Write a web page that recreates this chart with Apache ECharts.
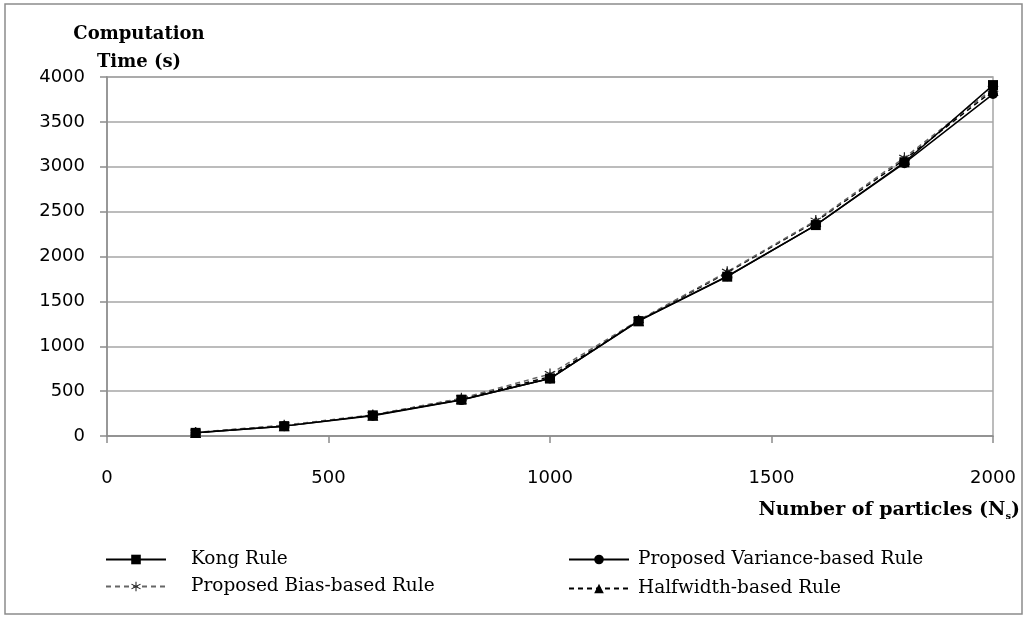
<!DOCTYPE html>
<html><head><meta charset="utf-8">
<script src="https://cdn.jsdelivr.net/npm/echarts@6/dist/echarts.min.js"></script>
<style>html,body{margin:0;padding:0;background:#fff}#c{width:1028px;height:619px}</style>
</head><body><div id="c"></div>
<script>
const particles = [200, 400, 600, 800, 1000, 1200, 1400, 1600, 1800, 2000];
const kongRule = [35, 110, 230, 405, 640, 1280, 1775, 2350, 3050, 3910];
const varianceRule = [35, 110, 225, 400, 640, 1285, 1780, 2350, 3040, 3810];
const biasRule = [40, 120, 235, 420, 690, 1290, 1830, 2400, 3100, 3870];
const halfwidthRule = [38, 115, 232, 415, 660, 1285, 1820, 2390, 3080, 3850];
const seriesNames = ['Kong Rule', 'Proposed Variance-based Rule', 'Proposed Bias-based Rule', 'Halfwidth-based Rule'];

const star = 'path://M4.5 0L5.5 0L5.5 10L4.5 10Z M9.08 7.93L9.58 7.07L0.92 2.07L0.42 2.93Z M9.58 2.93L9.08 2.07L0.42 7.07L0.92 7.93Z';
const pair = ys => particles.map((x, i) => [x, ys[i]]);
const serifFont = 'DejaVu Serif';
function mkLegend(name, left, top, pad) {
  return {data: [name], left: left, top: top, itemWidth: 60, itemHeight: 12,
    textStyle: {fontFamily: serifFont, fontSize: 18.5, color: '#000', padding: [0, 0, 0, pad]},
    orient: 'horizontal', padding: 0, selectedMode: false};
}
const chart = echarts.init(document.getElementById('c'), null, {renderer: 'canvas'});
chart.setOption({
  animation: false,
  backgroundColor: '#fff',
  grid: {left: 107, right: 35, top: 77, bottom: 183, show: true, borderColor: '#a6a6a6', borderWidth: 1.5},
  legend: [
    mkLegend(seriesNames[0], 105, 550, 20),
    mkLegend(seriesNames[2], 105, 577, 20),
    mkLegend(seriesNames[1], 568, 550, 4),
    mkLegend(seriesNames[3], 568, 579, 4)
  ],
  xAxis: {
    type: 'value', min: 0, max: 2000, interval: 500,
    axisLine: {lineStyle: {color: '#8c8c8c', width: 1.5}},
    axisTick: {show: true, length: 7, lineStyle: {color: '#8c8c8c', width: 1.5}},
    splitLine: {show: false},
    axisLabel: {fontFamily: 'DejaVu Sans', fontSize: 18, color: '#000', margin: 33, formatter: v => String(v)}
  },
  yAxis: {
    type: 'value', min: 0, max: 4000, interval: 500,
    axisLine: {show: true, lineStyle: {color: '#8c8c8c', width: 1.5}},
    axisTick: {show: true, inside: false, length: 7, lineStyle: {color: '#8c8c8c', width: 1.5}},
    splitLine: {show: true, lineStyle: {color: '#a6a6a6', width: 1.5}},
    axisLabel: {fontFamily: 'DejaVu Sans', fontSize: 18, color: '#000', margin: 22, formatter: v => String(v)}
  },
  graphic: [
    {type: 'rect', shape: {x: 5, y: 4, width: 1017, height: 610}, style: {fill: 'none', stroke: '#8c8c8c', lineWidth: 1.5}, z: -1},
    {type: 'text', x: 139, y: 20, style: {text: 'Computation\nTime (s)', align: 'center', textAlign: 'center', font: 'bold 18px "DejaVu Serif"', fill: '#000', lineHeight: 28}},
    {type: 'text', right: 8, top: 501, style: {
      text: '{a|Number of particles (N}{b|s}{a|)}',
      rich: {a: {fontFamily: serifFont, fontWeight: 'bold', fontSize: 19, fill: '#000'}, b: {fontFamily: serifFont, fontWeight: 'bold', fontSize: 10, fill: '#000', padding: [11, 0, 0, 0]}}
    }}
  ],
  series: [
    {name: seriesNames[0], type: 'line', data: pair(kongRule), symbol: 'rect', symbolSize: 10, lineStyle: {color: '#000', width: 1.5, type: 'solid'}, itemStyle: {color: '#000'}, z: 5},
    {name: seriesNames[1], type: 'line', data: pair(varianceRule), symbol: 'circle', symbolSize: 10, lineStyle: {color: '#000', width: 1.5, type: 'solid'}, itemStyle: {color: '#000'}, z: 4},
    {name: seriesNames[2], type: 'line', data: pair(biasRule), symbol: star, symbolSize: 11, lineStyle: {color: '#666', width: 1.5, type: [5, 4]}, itemStyle: {color: '#222'}, z: 3},
    {name: seriesNames[3], type: 'line', data: pair(halfwidthRule), symbol: 'triangle', symbolSize: 11, lineStyle: {color: '#000', width: 1.5, type: [5, 4]}, itemStyle: {color: '#000'}, z: 2}
  ]
});
</script></body></html>
